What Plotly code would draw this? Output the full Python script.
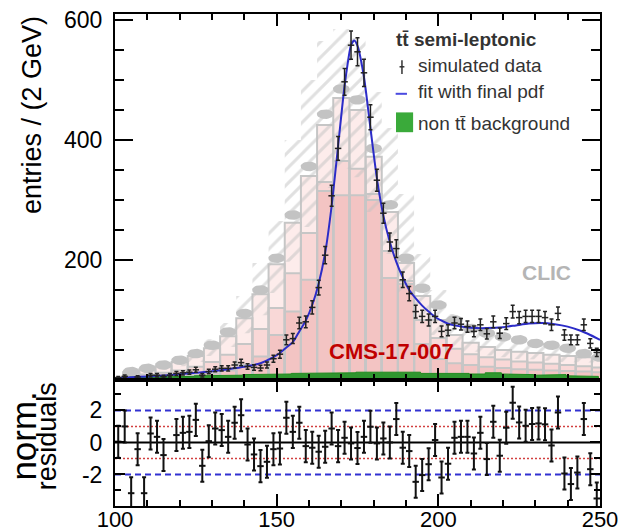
import numpy as np
import plotly.graph_objects as go

# ---------------- simulated data (2 GeV bins) ----------------
bin_centers = list(range(101, 251, 2))
counts = [4, 6, 1, 5, 1, 8, 8, 5.5, 8, 11, 12, 13, 17, 8, 14, 18, 19.5, 19.5, 25, 29,
          22.5, 21, 20, 25, 35.5, 43, 67, 69, 95, 97, 121, 154, 208, 307, 386, 497, 558, 547, 512, 438,
          333, 278, 230, 219, 167, 144, 114, 106, 100, 106, 81, 83, 95, 93, 89, 81, 92, 77, 97, 78,
          94, 114, 104, 106, 106, 106, 104, 92, 111, 75, 67, 67, 92, 61, 46]
# normalised residuals (None = not drawn)
residuals = [0.05, 1.0, -3.17, -0.42, -3.17, 0.56, 0.35, -0.79, None, 0.46,
             0.6, 0.66, 1.41, -1.46, 0.08, 0.87, 0.77, 0.35, 1.23, 1.7,
             -0.13, -0.75, -1.48, -1.21, -0.42, -0.38, 1.54, 0.66, 1.23, -0.23,
             -0.33, -0.58, -0.27, 0.87, -0.23, 0.29, -0.06, -0.35, 0.35, 0.98,
             -0.06, 0.25, 0.0, 1.46, -0.33, -0.54, -2.46, -2.04, -1.36, 0.15,
             -2.19, -1.33, 0.29, 0.35, 0.35, -0.69, 0.6, -1.04, 1.29, -0.83,
             0.92, 2.48, 1.25, 1.04, 1.15, 1.19, 1.13, -0.19, 1.87, -1.94,
             -2.6, -1.88, 1.46, -1.67, -3.5]

# fitted pdf, sampled along the mass axis
fit_mass = [100, 105, 110, 115, 120, 125, 130, 135, 140, 145, 149, 151, 153, 155, 157, 159,
            161, 163, 165, 167, 169, 171, 173, 174, 175, 177, 179, 181, 183, 185, 187, 189,
            191, 193, 195, 197, 199, 201, 203, 205, 207, 210, 215, 220, 224, 228, 232, 236,
            240, 244, 247, 250]
fit_vals = [3, 4.5, 6, 7.5, 9.5, 12, 14.5, 18, 22, 28, 38, 45, 54, 63, 81, 99,
            125, 161, 212, 290, 390, 490, 558, 566, 557, 505, 420, 336, 274, 230, 197, 171,
            150, 136, 124, 114, 105, 99, 94, 91, 89, 87, 86.5, 88, 91, 94, 95, 93,
            89, 82, 75, 67]

# ---------------- reference overlay (5 GeV bins) ----------------
ref_centers = list(range(105, 255, 5))
ref_total = [13, 18, 23, 30, 40, 53, 73, 103, 143, 193, 262, 340, 425, 470, 450,
             372, 280, 195, 140, 100, 75, 62, 55, 50, 47, 45, 42, 40, 38, 35]
ref_mid = [6, 9, 12, 16, 22, 30, 42, 60, 85, 120, 178, 245, 330, 365, 352,
           310, 215, 165, 100, 70, 52, 43, 38, 34, 31, 29, 27, 25, 23, 21]
ref_signal = [2, 3, 4, 6, 8, 11, 16, 25, 39, 75, 114, 167, 315, 308, 308,
              300, 170, 160, 60, 35, 28, 25, 22, 20, 18, 17, 16, 15, 14, 13]
ref_band_lo = [10, 14, 17, 23, 30, 40, 55, 78, 108, 145, 197, 255, 320, 352, 338,
               280, 210, 146, 105, 75, 56, 47, 41, 38, 35, 34, 32, 30, 29, 26]
ref_band_hi = [16, 22, 28, 37, 50, 68, 95, 140, 195, 265, 400, 500, 565, 585, 570,
               480, 420, 310, 210, 150, 110, 88, 78, 72, 67, 62, 58, 54, 50, 46]
ref_points = [14, 19.5, 25, 33, 44, 58, 80, 111, 150, 203, 275, 356, 443, 485, 467,
              386, 292, 203, 153, 125, 100, 86, 78, 72, 67, 61, 58, 53, 44, 38]
bkg_centers = list(range(102, 252, 5))
bkg_vals = [4, 5, 5, 6, 6, 7, 7, 8, 9, 9, 10, 11, 12, 12, 12,
            13, 12, 12, 13, 11, 12, 11, 10, 12, 10, 9, 8, 9, 7, 6]

X0, X1 = 100, 250
BIN_REF = 5.0
BIN_BKG = 5.0

font_main = "Liberation Sans, Arial, sans-serif"


def step_path(centers, values, width):
    xs, ys = [centers[0] - width / 2], [0]
    for c, v in zip(centers, values):
        xs += [c - width / 2, c + width / 2]
        ys += [v, v]
    xs.append(centers[-1] + width / 2)
    ys.append(0)
    return xs, ys


def box_outline(centers, values, width):
    xs, ys = [], []
    for c, v in zip(centers, values):
        l, r = c - width / 2, c + width / 2
        xs += [l, l, r, r, None]
        ys += [0, v, v, 0, None]
    return xs, ys


def band_path(centers, lo, hi, width):
    xu, yu = [], []
    for c, v in zip(centers, hi):
        xu += [c - width / 2, c + width / 2]
        yu += [v, v]
    xl, yl = [], []
    for c, v in zip(centers, lo):
        xl += [c - width / 2, c + width / 2]
        yl += [v, v]
    return xu + xl[::-1] + [xu[0]], yu + yl[::-1] + [yu[0]]


def ellipses(centers, values, half_w, half_h):
    t = np.linspace(0, 2 * np.pi, 28)
    xs, ys = [], []
    for c, v in zip(centers, values):
        xs += list(c + half_w * np.cos(t)) + [None]
        ys += list(v + half_h * np.sin(t)) + [None]
    return xs, ys


fig = go.Figure()

# stacked reference histograms
for vals, col in [(ref_total, "#fdeceb"), (ref_mid, "#f9d8d7"), (ref_signal, "#f3c4c3")]:
    xs, ys = step_path(ref_centers, vals, BIN_REF)
    fig.add_trace(go.Scatter(x=xs, y=ys, mode="lines", line=dict(width=0, color=col),
                             fill="toself", fillcolor=col, hoverinfo="skip", showlegend=False,
                             xaxis="x", yaxis="y"))
for vals in [ref_total, ref_mid, ref_signal]:
    xs, ys = box_outline(ref_centers, vals, BIN_REF)
    fig.add_trace(go.Scatter(x=xs, y=ys, mode="lines", line=dict(width=2, color="#c6c6c6"),
                             hoverinfo="skip", showlegend=False, xaxis="x", yaxis="y"))

# hatched uncertainty band
xs, ys = band_path(ref_centers, ref_band_lo, ref_band_hi, BIN_REF)
fig.add_trace(go.Scatter(x=xs, y=ys, mode="lines", line=dict(width=0, color="rgba(0,0,0,0)"),
                         fill="toself", fillcolor="rgba(0,0,0,0)",
                         fillpattern=dict(shape="/", fgcolor="#c2c2c2", bgcolor="rgba(0,0,0,0)",
                                          size=11, solidity=0.28),
                         hoverinfo="skip", showlegend=False, xaxis="x", yaxis="y"))

# reference data points (grey blobs)
xs, ys = ellipses(ref_centers, ref_points, 2.6, 8)
fig.add_trace(go.Scatter(x=xs, y=ys, mode="lines", line=dict(width=0, color="#c3c3c3"),
                         fill="toself", fillcolor="#c3c3c3", hoverinfo="skip", showlegend=False,
                         xaxis="x", yaxis="y"))

# non-ttbar background
xs, ys = step_path(bkg_centers, bkg_vals, BIN_BKG)
fig.add_trace(go.Scatter(x=xs, y=ys, mode="lines", line=dict(width=1, color="#1f8a1f"),
                         fill="toself", fillcolor="#2f962f", hoverinfo="skip", showlegend=False,
                         xaxis="x", yaxis="y"))

# fit
fig.add_trace(go.Scatter(x=fit_mass, y=fit_vals, mode="lines",
                         line=dict(color="#2c2cc8", width=2, shape="spline", smoothing=0.6),
                         hoverinfo="skip", showlegend=False, xaxis="x", yaxis="y"))

# simulated data
data_err = np.sqrt(np.array(counts, dtype=float))
fig.add_trace(go.Scatter(x=bin_centers, y=counts, mode="markers",
                         marker=dict(size=1, color="#222222"),
                         error_x=dict(type="constant", value=1, color="#222222", thickness=1.5, width=0),
                         error_y=dict(type="data", array=data_err, color="#222222", thickness=1.5, width=2),
                         hoverinfo="skip", showlegend=False, xaxis="x", yaxis="y"))

# residuals
fig.add_trace(go.Scatter(x=bin_centers, y=residuals, mode="markers",
                         marker=dict(size=1, color="#111111"),
                         error_x=dict(type="constant", value=1, color="#111111", thickness=2, width=0),
                         error_y=dict(type="constant", value=1, color="#111111", thickness=2, width=2),
                         hoverinfo="skip", showlegend=False, xaxis="x2", yaxis="y2"))

# reference lines in residual panel
res_lines = [(2, "#3232d2", "6px,4px", 2), (-2, "#3232d2", "6px,4px", 2),
             (1, "#d24040", "2px,2px", 1.5), (-1, "#d24040", "2px,2px", 1.5), (0, "#000000", "solid", 2)]
shapes = []
for yv, col, dash, lw in res_lines:
    shapes.append(dict(type="line", xref="x2 domain", yref="y2", x0=0, x1=1, y0=yv, y1=yv,
                       line=dict(color=col, width=lw, dash=dash), layer="below"))

# legend symbols
leg_font = dict(family=font_main, size=19, color="#333333")
shapes += [
    dict(type="line", xref="x", yref="y", x0=188.0, x1=189.5, y0=522, y1=522, line=dict(color="#333", width=1.5)),
    dict(type="line", xref="x", yref="y", x0=188.75, x1=188.75, y0=510, y1=533, line=dict(color="#333", width=1.5)),
    dict(type="line", xref="x", yref="y", x0=186.8, x1=190.3, y0=477, y1=477, line=dict(color="#4a4ae0", width=2)),
    dict(type="rect", xref="x", yref="y", x0=186.9, x1=192.2, y0=413, y1=446,
         line=dict(width=0), fillcolor="#3aaa3a"),
]

annotations = [
    dict(text="<b>tt̄ semi-leptonic</b>", x=186.2, y=568, xref="x", yref="y", xanchor="left", yanchor="middle",
         showarrow=False, font=dict(family=font_main, size=19, color="#333333")),
    dict(text="simulated data", x=193.2, y=524, xref="x", yref="y", xanchor="left", yanchor="middle",
         showarrow=False, font=leg_font),
    dict(text="fit with final pdf", x=193.2, y=481, xref="x", yref="y", xanchor="left", yanchor="middle",
         showarrow=False, font=leg_font),
    dict(text="non tt̄ background", x=193.2, y=428, xref="x", yref="y", xanchor="left", yanchor="middle",
         showarrow=False, font=leg_font),
    dict(text="<b>CLIC</b>", x=233.5, y=180, xref="x", yref="y", xanchor="center", yanchor="middle",
         showarrow=False, font=dict(family=font_main, size=21, color="#b5b5b5")),
    dict(text="<b>CMS-17-007</b>", x=185.4, y=47, xref="x", yref="y", xanchor="center", yanchor="middle",
         showarrow=False, font=dict(family=font_main, size=22, color="#c00000")),
    dict(text="entries / (2 GeV)", x=-0.171, y=1.0, xref="paper", yref="paper", xanchor="center", yanchor="top",
         textangle=-90, showarrow=False, font=dict(family=font_main, size=27, color="#000000")),
    dict(text="norm.", x=-0.1887, y=0.142, xref="paper", yref="paper", xanchor="center", yanchor="middle",
         textangle=-90, showarrow=False, font=dict(family=font_main, size=35, color="#000000")),
    dict(text="residuals", x=-0.140, y=0.142, xref="paper", yref="paper", xanchor="center", yanchor="middle",
         textangle=-90, showarrow=False, font=dict(family=font_main, size=27, color="#000000")),
]

tick_font = dict(family=font_main, size=23, color="#000000")
split = 126 / 492

axis_common = dict(showline=True, linecolor="#000000", linewidth=2, mirror="ticks",
                   ticks="inside", tickcolor="#000000", showgrid=False, zeroline=False,
                   automargin=False)

fig.update_layout(
    width=626, height=532,
    margin=dict(l=115, r=26, t=14, b=26),
    paper_bgcolor="white", plot_bgcolor="rgba(0,0,0,0)",
    showlegend=False,
    xaxis=dict(domain=[0, 1], anchor="y", range=[X0, X1], showticklabels=False,
               tickvals=[100, 150, 200, 250], ticklen=12, tickwidth=1.5,
               minor=dict(dtick=10, tick0=100, ticklen=6, ticks="inside", tickcolor="#000000"),
               **axis_common),
    yaxis=dict(domain=[split, 1], anchor="x", range=[0, 610], tickvals=[200, 400, 600],
               ticklen=18, tickwidth=1.5, tickfont=tick_font, ticklabelstandoff=6,
               minor=dict(dtick=50, tick0=0, ticklen=9, ticks="inside", tickcolor="#000000"),
               **axis_common),
    xaxis2=dict(domain=[0, 1], anchor="y2", range=[X0, X1], matches="x",
                tickvals=[100, 150, 200, 250], ticktext=["100", "150", "200", "250"],
                ticklen=12, tickwidth=1.5, tickfont=dict(family=font_main, size=22, color="#000000"),
                ticklabelstandoff=-7,
                minor=dict(dtick=10, tick0=100, ticklen=6, ticks="inside", tickcolor="#000000"),
                **axis_common),
    yaxis2=dict(domain=[0, split], anchor="x2", range=[-3.97, 3.9],
                tickvals=[-2, 0, 2], ticktext=["-2", "0", "2"], ticklen=10, tickwidth=1.5,
                tickfont=tick_font, ticklabelstandoff=6,
                minor=dict(dtick=1, tick0=0, ticklen=6, ticks="inside", tickcolor="#000000"),
                **axis_common),
    shapes=shapes,
    annotations=annotations,
)

fig.write_html("out.html")
